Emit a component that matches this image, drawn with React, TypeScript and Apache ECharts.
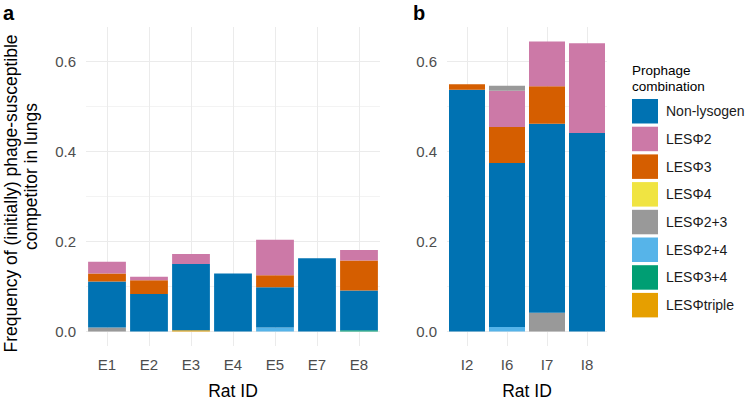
import React, { useEffect, useRef } from "react";
import * as echarts from "echarts";

const ratsA = ["E1", "E2", "E3", "E4", "E5", "E7", "E8"];
const ratsB = ["I2", "I6", "I7", "I8"];

const combos = ["Non-lysogen", "LESΦ2", "LESΦ3", "LESΦ4", "LESΦ2+3", "LESΦ2+4", "LESΦ3+4", "LESΦtriple"];
const comboColors = ["#0072B2", "#CC79A7", "#D55E00", "#F0E442", "#999999", "#56B4E9", "#009E73", "#E69F00"];

// Panel a (E rats), segment heights
const nonLysogenA = [0.102, 0.0835, 0.147, 0.129, 0.0896, 0.1625, 0.088];
const phi2A = [0.026, 0.0075, 0.022, 0, 0.079, 0, 0.023];
const phi3A = [0.018, 0.0305, 0, 0, 0.0264, 0, 0.067];
const phi4A = [0, 0, 0, 0, 0, 0, 0];
const phi23A = [0.009, 0, 0, 0, 0, 0, 0];
const phi24A = [0, 0, 0, 0, 0.009, 0, 0];
const phi34A = [0, 0, 0, 0, 0, 0, 0.003];
const tripleA = [0, 0, 0.003, 0, 0, 0, 0];

// Panel b (I rats), segment heights
const nonLysogenB = [0.537, 0.364, 0.419, 0.441];
const phi2B = [0, 0.0806, 0.0994, 0.199];
const phi3B = [0.012, 0.08, 0.0836, 0];
const phi4B = [0, 0, 0, 0];
const phi23B = [0, 0, 0.042, 0];
const phi23TopB = [0, 0.011, 0, 0];
const phi24B = [0, 0.01, 0, 0];
const phi34B = [0, 0, 0, 0];
const tripleB = [0, 0, 0, 0];

const yMin = -0.032;
const yMax = 0.676;

const FONT = "'Liberation Sans', Arial, Helvetica, sans-serif";

export default function App() {
  const ref = useRef<HTMLDivElement>(null);
  useEffect(() => {
    if (!ref.current) return;
    const chart = echarts.init(ref.current, undefined, { renderer: "svg" });

    const yAxis = (gridIndex: number) => ({
      type: "value",
      gridIndex,
      min: yMin,
      max: yMax,
      splitNumber: 7,
      minInterval: 0.1,
      maxInterval: 0.1,
      axisLine: { show: false },
      axisTick: { show: false },
      axisLabel: {
        color: "#4d4d4d",
        fontSize: 15,
        fontFamily: FONT,
        margin: 10,
        formatter: (v: number) => {
          const k = v * 10;
          const r = Math.round(k);
          if (Math.abs(k - r) > 1e-6 || r < 0 || r % 2 !== 0) return "";
          return v.toFixed(1);
        },
      },
      splitLine: {
        show: true,
        showMinLine: false,
        showMaxLine: false,
        lineStyle: { color: ["#ebebeb", "#f3f3f3"], width: 1 },
      },
    });

    const catAxis = (gridIndex: number, data: string[]) => ({
      type: "category",
      gridIndex,
      data,
      axisLine: { show: false },
      axisTick: { show: false },
      splitLine: { show: false },
      axisLabel: { color: "#4d4d4d", fontSize: 15, fontFamily: FONT, margin: 11 },
      name: "Rat ID",
      nameLocation: "middle",
      nameGap: 36,
      nameTextStyle: { color: "#000", fontSize: 17.5, fontFamily: FONT },
    });

    const vGridAxis = (gridIndex: number, n: number) => ({
      type: "value",
      gridIndex,
      position: "bottom",
      min: -0.5,
      max: n - 0.5,
      splitNumber: n,
      minInterval: 1,
      maxInterval: 1,
      axisLine: { show: false },
      axisTick: { show: false },
      axisLabel: { show: false },
      splitLine: {
        show: true,
        showMinLine: false,
        showMaxLine: false,
        lineStyle: { color: "#ebebeb", width: 1 },
      },
    });

    // stacking order, bottom to top
    const stackA: [string, number[]][] = [
      ["LESΦtriple", tripleA],
      ["LESΦ3+4", phi34A],
      ["LESΦ2+4", phi24A],
      ["LESΦ2+3", phi23A],
      ["LESΦ4", phi4A],
      ["Non-lysogen", nonLysogenA],
      ["LESΦ3", phi3A],
      ["LESΦ2", phi2A],
    ];
    const stackB: [string, number[]][] = [
      ["LESΦtriple", tripleB],
      ["LESΦ3+4", phi34B],
      ["LESΦ2+4", phi24B],
      ["LESΦ2+3", phi23B],
      ["LESΦ4", phi4B],
      ["Non-lysogen", nonLysogenB],
      ["LESΦ3", phi3B],
      ["LESΦ2", phi2B],
      ["LESΦ2+3", phi23TopB],
    ];

    const colorOf = (name: string) => comboColors[combos.indexOf(name)];

    const series: any[] = [];
    stackA.forEach(([name, data]) =>
      series.push({
        type: "bar",
        name,
        stack: "a",
        xAxisIndex: 0,
        yAxisIndex: 0,
        data,
        barCategoryGap: "10%",
        itemStyle: { color: colorOf(name) },
      })
    );
    stackB.forEach(([name, data]) =>
      series.push({
        type: "bar",
        name,
        stack: "b",
        xAxisIndex: 1,
        yAxisIndex: 1,
        data,
        barCategoryGap: "10%",
        itemStyle: { color: colorOf(name) },
      })
    );

    chart.setOption({
      animation: false,
      backgroundColor: "#ffffff",
      textStyle: { fontFamily: FONT },
      grid: [
        { left: 86, top: 27, width: 294, height: 330 },
        { left: 447, top: 27, width: 160, height: 330 },
      ],
      xAxis: [catAxis(0, ratsA), catAxis(1, ratsB), vGridAxis(0, ratsA.length), vGridAxis(1, ratsB.length)],
      yAxis: [yAxis(0), yAxis(1)],
      legend: {
        data: combos,
        orient: "vertical",
        left: 632,
        top: 99,
        padding: 0,
        itemWidth: 26,
        itemHeight: 24.5,
        itemGap: 3.2,
        icon: "rect",
        selectedMode: false,
        textStyle: { color: "#1a1a1a", fontSize: 14, fontFamily: FONT, padding: [0, 0, 0, 3] },
      },
      graphic: [
        { type: "text", left: 3, top: 3, style: { text: "a", fontSize: 20, fontWeight: "bold", fill: "#000", fontFamily: FONT } },
        { type: "text", left: 413, top: 3, style: { text: "b", fontSize: 20, fontWeight: "bold", fill: "#000", fontFamily: FONT } },
        {
          type: "text",
          x: 10.5,
          y: 193.5,
          rotation: Math.PI / 2,
          style: {
            text: "Frequency of (initially) phage-susceptible",
            fontSize: 17.5,
            fill: "#000",
            fontFamily: FONT,
            align: "center",
            verticalAlign: "middle",
          },
        },
        {
          type: "text",
          x: 30.5,
          y: 176.5,
          rotation: Math.PI / 2,
          style: {
            text: "competitor in lungs",
            fontSize: 17.5,
            fill: "#000",
            fontFamily: FONT,
            align: "center",
            verticalAlign: "middle",
          },
        },
        {
          type: "text",
          x: 632,
          y: 70.5,
          style: { text: "Prophage", fontSize: 13.5, fill: "#000", fontFamily: FONT, align: "left", verticalAlign: "middle" },
        },
        {
          type: "text",
          x: 632,
          y: 86.5,
          style: { text: "combination", fontSize: 13.5, fill: "#000", fontFamily: FONT, align: "left", verticalAlign: "middle" },
        },
      ],
      series,
    });

    return () => chart.dispose();
  }, []);

  return (
    <div
      ref={ref}
      style={{ position: "fixed", left: 0, top: 0, width: 746, height: 405, background: "#fff" }}
    />
  );
}
